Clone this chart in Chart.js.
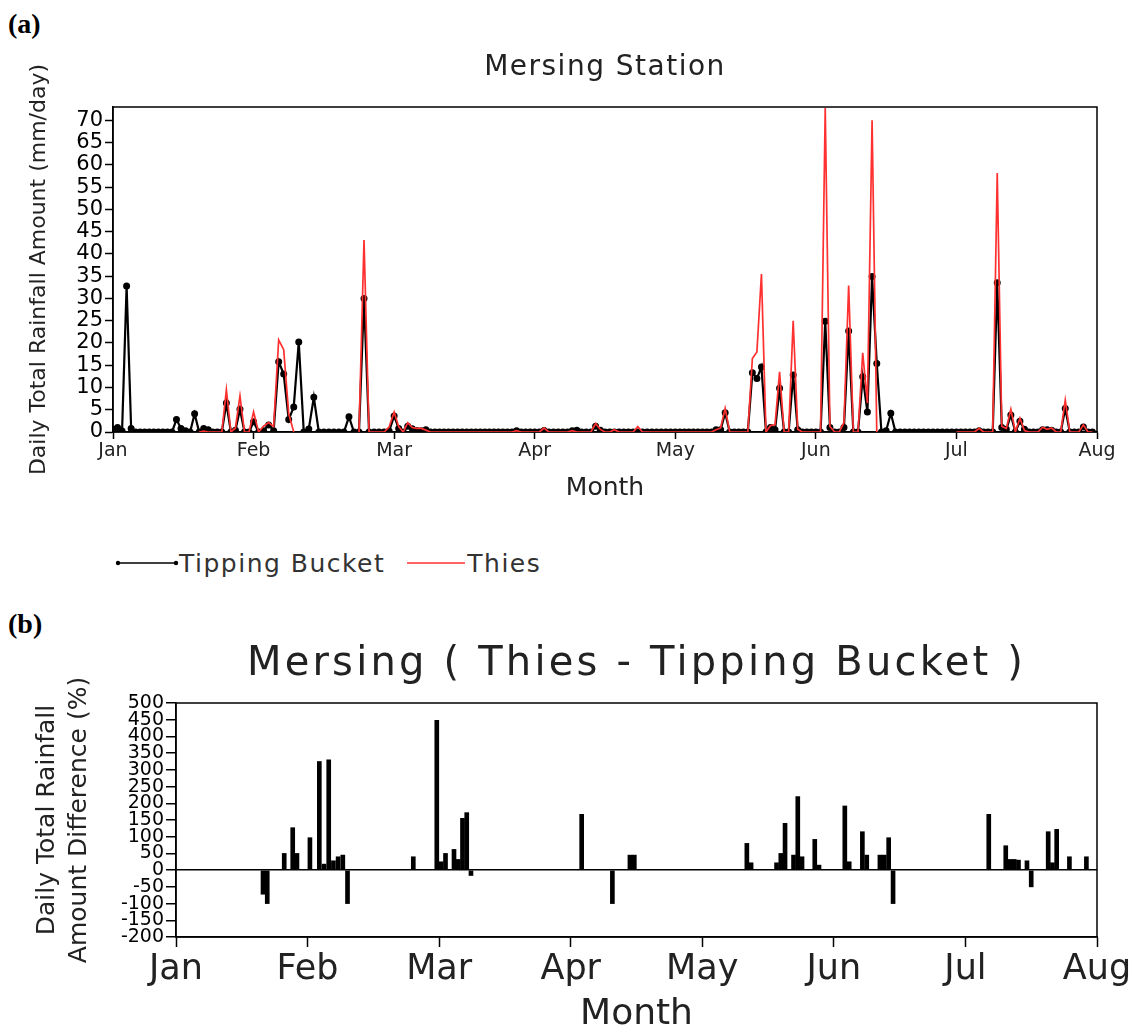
<!DOCTYPE html>
<html>
<head>
<meta charset="utf-8">
<script src="https://cdn.jsdelivr.net/npm/chart.js@4.4.1/dist/chart.umd.min.js"></script>
<style>
    html, body { margin: 0; padding: 0; background: #fff; }
    body { width: 1132px; height: 1034px; position: relative; overflow: hidden; font-family: "DejaVu Sans", sans-serif; }
    .tag { position: absolute; left: 8px; font: bold 28px "Liberation Serif", "DejaVu Serif", serif; color: #000; }
    #boxTop { position: absolute; left: 0; top: 40px; }
    #boxBot { position: absolute; left: 0; top: 640px; }
    #legend { position: absolute; left: 115px; top: 549px; height: 28px; display: flex; align-items: center; font-size: 25px; letter-spacing: 1.5px; color: #333; }
    #legend svg { display: block; }
    #legend span { margin-right: 22px; }
</style>
</head>
<body>
<div class="tag" style="top:8px">(a)</div>
<div class="tag" style="top:608px">(b)</div>
<canvas id="boxTop" width="1132" height="470"></canvas>
<div id="legend">
    <svg width="64" height="10"><line x1="3" y1="5" x2="61" y2="5" stroke="#000" stroke-width="1.5"/><circle cx="3" cy="5" r="2.2" fill="#000"/><circle cx="61" cy="5" r="2.2" fill="#000"/></svg>
    <span>Tipping Bucket</span>
    <svg width="60" height="10"><line x1="0" y1="5" x2="58" y2="5" stroke="#ff3030" stroke-width="1.5"/></svg>
    <span>Thies</span>
</div>
<canvas id="boxBot" width="1132" height="394"></canvas>

<script>
// ---- dados ----
const monthNames = ['Jan', 'Feb', 'Mar', 'Apr', 'May', 'Jun', 'Jul', 'Aug'];
const daysInMonth = [31, 28, 31, 30, 31, 30, 31];
const yTicksTop = [0, 5, 10, 15, 20, 25, 30, 35, 40, 45, 50, 55, 60, 65, 70];
const yTicksBot = [-200, -150, -100, -50, 0, 50, 100, 150, 200, 250, 300, 350, 400, 450, 500];

// chuva diária (mm/dia), Tipping Bucket
const tippingJan = [0.6, 1.0, 0.2, 32.8, 0.8, 0, 0, 0, 0, 0, 0, 0, 0, 0, 2.8, 0.8, 0.3, 0, 4.1, 0, 0.8, 0.5, 0, 0, 0, 6.5, 0, 0.4, 5.1, 0, 0];
const tippingFeb = [2.3, 0, 0.3, 1.6, 0.3, 15.8, 13.0, 2.8, 5.6, 20.2, 0, 0.7, 7.8, 0, 0, 0, 0, 0, 0, 3.4, 0, 0, 30.0, 0, 0, 0, 0, 0.2];
const tippingMar = [3.6, 0.8, 0, 1.3, 0.75, 0.31, 0.3, 0.5, 0, 0, 0, 0, 0, 0, 0, 0, 0, 0, 0, 0, 0, 0, 0, 0, 0, 0, 0, 0.3, 0, 0, 0];
const tippingApr = [0, 0, 0.34, 0, 0, 0, 0, 0, 0.3, 0.4, 0, 0, 0, 1.3, 0.4, 0, 0, 0, 0, 0, 0, 0, 0, 0, 0, 0, 0, 0, 0, 0];
const tippingMay = [0, 0, 0, 0, 0, 0, 0, 0, 0, 0.5, 0.5, 4.3, 0, 0, 0, 0, 0, 13.3, 12.0, 14.6, 0, 1.0, 0.5, 9.8, 0, 0, 12.8, 0.52, 0, 0, 0];
const tippingJun = [0, 0, 24.9, 1.0, 0, 0, 1.0, 22.7, 0, 0, 12.4, 4.5, 34.9, 15.4, 0, 0.3, 4.2, 0, 0, 0, 0, 0, 0, 0, 0, 0, 0, 0, 0, 0];
const tippingJul = [0, 0, 0, 0, 0, 0.3, 0, 0, 0, 33.5, 1.0, 0.6, 3.8, 0, 2.4, 0.6, 0, 0, 0, 0.5, 0.5, 0.4, 0, 0, 5.3, 0, 0, 0, 1.1, 0, 0];

// chuva diária (mm/dia), Thies (null = sem dado)
const thiesJan = [null, null, null, null, null, null, null, null, null, null, null, null, null, null, null, null, null, null, null, 0, 0.2, 0, 0, 0, 0, 9.5, 0, 0.9, 8.1, 0, 0];
const thiesFeb = [4.5, 0, 1.3, 2.1, 1.2, 20.7, 18.5, 4.1, 0, null, null, null, null, null, null, null, null, null, null, null, null, 0, 43.1, 0, 0, 0, 0, 1.1];
const thiesMar = [4.5, 1.2, 0, 2.1, 1.0, 0.8, 0.82, 0.42, 0, 0, 0, 0, 0, 0, 0, 0, 0, 0, 0, 0, 0, 0, 0, 0, 0, 0, 0, 0.3, 0, 0, 0];
const thiesApr = [0, 0, 0.9, 0, 0, 0, 0, 0, 0.3, 0, 0, 0, 0, 1.9, 0.58, 0, 0, 0.5, 0, 0, 0, 0, 1.2, 0, 0, 0, 0, 0, 0, 0];
const thiesMay = [0, 0, 0, 0, 0, 0, 0, 0, 0, 0.5, 0.9, 5.3, 0, 0, 0, 0, 0, 16.5, 18.0, 35.5, 0, 1.45, 1.6, 13.5, 0, 0, 25.0, 0.6, 0, 0, 0];
const thiesJun = [0, 0, 72.8, 1.25, 0, 0, 2.15, 32.9, 0, 0, 17.8, 6.5, 70.0, 0, null, null, null, null, null, null, null, null, null, null, null, null, null, null, null, null];
const thiesJul = [0, 0, 0, 0, 0, 0.8, 0, 0, 0, 58.2, 1.3, 0.8, 5.1, 0, 3.1, 0.3, 0, 0, 0, 1.08, 0.6, 0.9, 0, 0, 7.2, 0, 0, 0, 1.6, 0, 0];

// diferença percentual (Thies - Tipping Bucket), por dia
const diffDates = [
    '01-21', '01-22', '01-26', '01-28', '01-29',
    '02-01', '02-03', '02-04', '02-05', '02-06', '02-07', '02-08', '02-09', '02-23', '02-28',
    '03-01', '03-02', '03-04', '03-05', '03-06', '03-07', '03-08',
    '04-03', '04-10', '04-14', '04-15',
    '05-11', '05-12', '05-18', '05-19', '05-20', '05-22', '05-23', '05-24', '05-27', '05-28',
    '06-03', '06-04', '06-07', '06-08', '06-11', '06-12', '06-13', '06-14',
    '07-06', '07-10', '07-11', '07-12', '07-13', '07-15', '07-16', '07-20', '07-21', '07-22', '07-25', '07-29'
];
const diffPct = [
    -72, -100, 50, 127, 50,
    97, 325, 18, 330, 28, 40, 45, -100, 40, 448,
    25, 50, 62, 32, 155, 172, -16,
    167, -100, 45, 45,
    80, 22, 22, 50, 140, 45, 220, 40, 92, 15,
    192, 25, 115, 45, 45, 45, 97, -100,
    167, 73, 32, 32, 30, 28, -50, 115, 22, 122, 40, 40
];

// ---- montagem ----
const FONT = '"DejaVu Sans", sans-serif';
const TXT = '#222';

const toPoints = (meses) => {
    const pts = [];
    meses.forEach((vals, m) => {
        vals.forEach((v, i) => pts.push({ x: m + i / daysInMonth[m], y: v }));
    });
    return pts;
};

const diffPoints = diffDates.map((d, i) => {
    const [mm, dd] = d.split('-').map(Number);
    return { x: mm - 1 + (dd - 0.5) / daysInMonth[mm - 1], y: diffPct[i] };
});

// moldura em volta da área do gráfico
const framePlugin = {
    id: 'frame',
    beforeDatasetsDraw(chart) {
        const { ctx, chartArea: a } = chart;
        ctx.save();
        ctx.strokeStyle = '#000';
        ctx.lineWidth = 1.5;
        ctx.strokeRect(a.left, a.top, a.right - a.left, a.bottom - a.top);
        ctx.restore();
    }
};

// título com letras mais espaçadas (estilo GrADS)
const spacedTitle = {
    id: 'spacedTitle',
    afterInit(chart, args, opts) {
        const t = chart.titleBlock;
        if (!t) return;
        const draw = t.draw.bind(t);
        t.draw = (area) => {
            chart.ctx.save();
            chart.ctx.letterSpacing = opts.spacing || '0px';
            draw(area);
            chart.ctx.restore();
        };
    }
};

const monthAxis = (height, tickLen, pad, labelSize, titleSize, titlePadBottom) => ({
    type: 'linear',
    min: 0,
    max: 7,
    offset: false,
    afterFit: (s) => { s.height = height; s.paddingLeft = 0; s.paddingRight = 0; },
    afterBuildTicks: (s) => { s.ticks = monthNames.map((_, i) => ({ value: i })); },
    grid: { display: true, offset: false, drawOnChartArea: false, drawTicks: true, tickLength: tickLen, tickColor: '#000', tickWidth: 1.5 },
    border: { display: true, color: '#000', width: 1.5 },
    ticks: {
        autoSkip: false, maxRotation: 0, padding: pad, color: TXT,
        font: { family: FONT, size: labelSize, lineHeight: 1 },
        callback: (v) => monthNames[v]
    },
    title: { display: true, text: 'Month', color: TXT, font: { family: FONT, size: titleSize, lineHeight: 1 }, padding: { top: 0, bottom: titlePadBottom } }
});

// (a) série diária
const chartTop = new Chart(document.getElementById('boxTop'), {
    type: 'line',
    data: {
        datasets: [
            { label: 'Thies', data: toPoints([thiesJan, thiesFeb, thiesMar, thiesApr, thiesMay, thiesJun, thiesJul]),
              borderColor: '#ff3030', borderWidth: 1.7, pointRadius: 0, tension: 0, spanGaps: false },
            { label: 'Tipping Bucket', data: toPoints([tippingJan, tippingFeb, tippingMar, tippingApr, tippingMay, tippingJun, tippingJul]),
              borderColor: '#000', backgroundColor: '#000', borderWidth: 2.2, pointRadius: 2.4, pointHoverRadius: 2.4, tension: 0 }
        ]
    },
    options: {
        responsive: false,
        animation: false,
        events: [],
        layout: { padding: { left: 0, right: 35, top: 0, bottom: 0 } },
        plugins: {
            legend: { display: false },
            tooltip: { enabled: false },
            spacedTitle: { spacing: '1.5px' },
            title: { display: true, text: 'Mersing Station', fullSize: false, color: TXT,
                     font: { family: FONT, size: 28, weight: 'normal', lineHeight: 1.2 }, padding: { top: 11, bottom: 22.4 } }
        },
        scales: {
            x: monthAxis(78, 7, 3, 19, 25, 9),
            y: {
                min: 0,
                max: 73,
                afterFit: (s) => { s.width = 113; },
                afterBuildTicks: (s) => { s.ticks = yTicksTop.map(v => ({ value: v })); },
                grid: { display: true, drawOnChartArea: false, drawTicks: true, tickLength: 8, tickColor: '#000', tickWidth: 1.5 },
                border: { display: true, color: '#000', width: 1.5 },
                ticks: { autoSkip: false, padding: 2, color: '#000', font: { family: FONT, size: 21, lineHeight: 1 } },
                title: { display: true, text: 'Daily Total Rainfall Amount (mm/day)', color: TXT,
                         font: { family: FONT, size: 22, lineHeight: 1 }, padding: { top: 28, bottom: 0 } }
            }
        }
    },
    plugins: [framePlugin, spacedTitle]
});

// (b) diferença percentual
const chartBot = new Chart(document.getElementById('boxBot'), {
    type: 'bar',
    data: {
        datasets: [
            { label: 'Thies - Tipping Bucket', data: diffPoints, backgroundColor: '#000', borderWidth: 0, barThickness: 4 }
        ]
    },
    options: {
        responsive: false,
        animation: false,
        events: [],
        layout: { padding: { left: 0, right: 35, top: 0, bottom: 0 } },
        plugins: {
            legend: { display: false },
            tooltip: { enabled: false },
            spacedTitle: { spacing: '3.2px' },
            title: { display: true, text: 'Mersing ( Thies - Tipping Bucket )', fullSize: false, color: TXT,
                     font: { family: FONT, size: 40, weight: 'normal', lineHeight: 1.2 }, padding: { top: 1, bottom: 14 } }
        },
        scales: {
            x: monthAxis(97, 10, 5, 35, 36, 1),
            y: {
                min: -200,
                max: 500,
                afterFit: (s) => { s.width = 176; },
                afterBuildTicks: (s) => { s.ticks = yTicksBot.map(v => ({ value: v })); },
                grid: {
                    display: true, drawOnChartArea: true, drawTicks: true, tickLength: 10, tickColor: '#000', tickWidth: 1.5, lineWidth: 1.5,
                    color: (c) => (c.tick && c.tick.value === 0 ? '#000' : 'rgba(0,0,0,0)')
                },
                border: { display: true, color: '#000', width: 1.5 },
                ticks: { autoSkip: false, padding: 2, color: '#000', font: { family: FONT, size: 19, lineHeight: 1 } },
                title: { display: true, text: ['Daily Total Rainfall', 'Amount Difference (%)'], color: TXT,
                         font: { family: FONT, size: 25, lineHeight: 1.28 }, padding: { top: 31, bottom: 0 } }
            }
        }
    },
    plugins: [framePlugin, spacedTitle]
});

// redesenha para aplicar o espaçamento dos títulos
chartTop.draw();
chartBot.draw();
</script>
</body>
</html>
